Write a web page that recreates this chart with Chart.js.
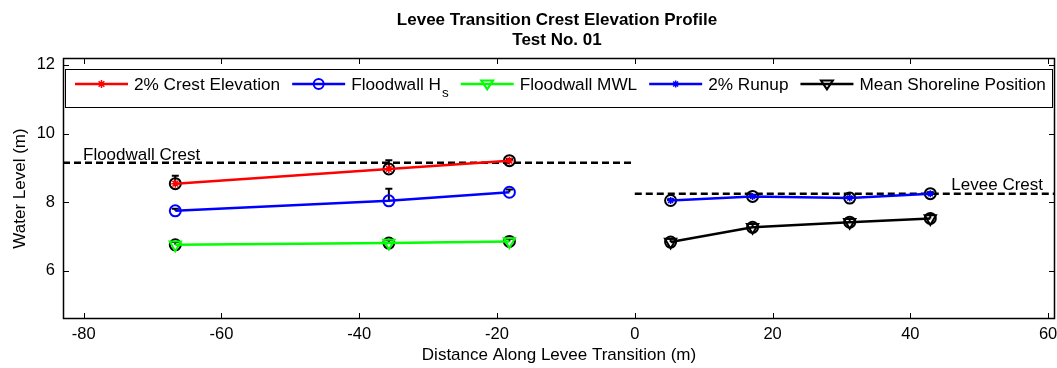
<!DOCTYPE html>
<html>
<head>
<meta charset="utf-8">
<script src="https://cdn.jsdelivr.net/npm/chart.js@4.4.0/dist/chart.umd.min.js"></script>
<style>
  html, body { margin: 0; padding: 0; background: #fff; }
  #wrap { width: 1057px; height: 368px; }
</style>
</head>
<body>
<div id="wrap"><canvas id="chart"></canvas></div>
<script>
const FONT = '"Liberation Sans", Arial, Helvetica, sans-serif';

// floodwall side (left of 0)
const floodX = [-66.7, -35.7, -18.2];
const crestElev = [8.54, 8.97, 9.21];
const crestErr = [0.23, 0.25, 0.05];
const floodHs = [7.75, 8.04, 8.29];
const hsErr = [0.06, 0.35, 0.08];
const floodMwl = [6.76, 6.81, 6.86];
const mwlErr = [0.08, 0.08, 0.08];

// levee side (right of 0)
const leveeX = [5.2, 17.1, 31.2, 42.9];
const runup = [8.05, 8.17, 8.12, 8.25];
const runupErr = [0.04, 0.04, 0.04, 0.04];
const shoreline = [6.84, 7.27, 7.42, 7.53];
const shoreErr = [0.1, 0.1, 0.1, 0.1];

const floodwallCrest = 9.15;
const leveeCrest = 8.25;
const xRange = [-83, 61];
const yRange = [4.6, 12.2];
const xTicks = [-80, -60, -40, -20, 0, 20, 40, 60];
const yTicks = [6, 8, 10, 12];
const titleLines = ['Levee Transition Crest Elevation Profile', 'Test No. 01'];
const legendLabels = ['2% Crest Elevation', 'Floodwall H', 'Floodwall MWL', '2% Runup', 'Mean Shoreline Position'];

const RED = '#ff0000', BLUE = '#0000ff', GREEN = '#00ff00', BLACK = '#000000';
const LW = 2.5;

const pts = (xs, ys) => xs.map((x, i) => ({ x, y: ys[i] }));

function drawMarker(ctx, style, x, y, r, color) {
    ctx.save();
    ctx.strokeStyle = color;
    ctx.lineWidth = 2;
    ctx.beginPath();
    if (style === 'circle') {
        ctx.arc(x, y, r, 0, Math.PI * 2);
    } else if (style === 'star') {
        ctx.lineWidth = 1.5;
        for (let a = 0; a < 4; a++) {
            const ang = a * Math.PI / 4;
            ctx.moveTo(x - Math.cos(ang) * r, y - Math.sin(ang) * r);
            ctx.lineTo(x + Math.cos(ang) * r, y + Math.sin(ang) * r);
        }
    } else if (style === 'tridown') {
        ctx.moveTo(x - r, y - r * 0.6);
        ctx.lineTo(x + r, y - r * 0.6);
        ctx.lineTo(x, y + r * 0.9);
        ctx.closePath();
    }
    ctx.stroke();
    ctx.restore();
}

const boxTicks = {
    id: 'boxTicks',
    beforeDatasetsDraw(chart) {
        const { ctx, scales: { x, y } } = chart;
        // error bars (upper half only visible)
        const groups = [
            [floodX, crestElev, crestErr], [floodX, floodHs, hsErr], [floodX, floodMwl, mwlErr],
            [leveeX, runup, runupErr], [leveeX, shoreline, shoreErr]
        ];
        ctx.save();
        ctx.strokeStyle = BLACK;
        ctx.lineWidth = 2;
        groups.forEach(([xs, ys, es]) => {
            xs.forEach((v, i) => {
                const px = x.getPixelForValue(v);
                const py = y.getPixelForValue(ys[i]);
                const pt = y.getPixelForValue(ys[i] + es[i]);
                ctx.beginPath();
                ctx.moveTo(px, py); ctx.lineTo(px, pt);
                ctx.moveTo(px - 3.5, pt); ctx.lineTo(px + 3.5, pt);
                ctx.stroke();
            });
        });
        ctx.restore();
    },
    afterDraw(chart) {
        const { ctx, chartArea: a, scales: { x, y } } = chart;
        ctx.save();
        ctx.strokeStyle = BLACK;
        ctx.lineWidth = 1;
        ctx.beginPath();
        xTicks.forEach(v => {
            const px = Math.round(x.getPixelForValue(v)) + 0.5;
            ctx.moveTo(px, a.bottom); ctx.lineTo(px, a.bottom - 6);
            ctx.moveTo(px, a.top); ctx.lineTo(px, a.top + 6);
        });
        yTicks.forEach(v => {
            const py = Math.round(y.getPixelForValue(v)) + 0.5;
            ctx.moveTo(a.left, py); ctx.lineTo(a.left + 6, py);
            ctx.moveTo(a.right, py); ctx.lineTo(a.right - 6, py);
        });
        ctx.stroke();
        ctx.lineWidth = 1.5;
        ctx.strokeRect(a.left + 0.5, a.top + 0.5, a.right - a.left - 1, a.bottom - a.top - 1);

        // annotations
        ctx.fillStyle = BLACK;
        ctx.font = '17px ' + FONT;
        ctx.textBaseline = 'alphabetic';
        ctx.textAlign = 'left';
        ctx.fillText('Floodwall Crest', a.left + 20, y.getPixelForValue(floodwallCrest) - 3);
        ctx.textAlign = 'right';
        ctx.fillText('Levee Crest', a.right - 12, y.getPixelForValue(leveeCrest) - 4);

        // title
        ctx.textAlign = 'center';
        ctx.textBaseline = 'middle';
        ctx.font = 'bold 17px ' + FONT;
        ctx.fillText(titleLines[0], 557, 20);
        ctx.fillText(titleLines[1], 557, 40);

        // legend
        const lx = a.left + 2, ly = a.top + 11, lw = a.right - a.left - 4, lh = 39;
        ctx.fillStyle = '#fff';
        ctx.fillRect(lx, ly, lw, lh);
        ctx.lineWidth = 1;
        ctx.strokeStyle = BLACK;
        ctx.strokeRect(lx + 0.5, ly + 0.5, lw - 1, lh - 1);
        const items = [
            [RED, 'star', 4], [BLUE, 'circle', 5], [GREEN, 'tridown', 6], [BLUE, 'star', 3.5], [BLACK, 'tridown', 6]
        ];
        let cx = lx + 10;
        const cy = ly + 15;
        ctx.font = '17.2px ' + FONT;
        ctx.textAlign = 'left';
        ctx.textBaseline = 'middle';
        items.forEach(([col, st, r], i) => {
            ctx.strokeStyle = col;
            ctx.lineWidth = LW;
            ctx.beginPath();
            ctx.moveTo(cx, cy); ctx.lineTo(cx + 53, cy);
            ctx.stroke();
            drawMarker(ctx, st, cx + 26.5, cy, r, col);
            cx += 59;
            ctx.fillStyle = BLACK;
            const txt = legendLabels[i];
            ctx.fillText(txt, cx, cy + 1);
            cx += ctx.measureText(txt).width;
            if (i === 1) {
                ctx.font = '13.5px ' + FONT;
                ctx.fillText('s', cx + 1, cy + 9);
                cx += ctx.measureText('s').width + 1;
                ctx.font = '17.2px ' + FONT;
            }
            cx += 12;
        });
        ctx.restore();
    }
};

const ring = (xs, ys) => ({
    data: pts(xs, ys), showLine: false, pointStyle: 'circle', pointRadius: 5.5,
    pointBorderColor: BLACK, pointBackgroundColor: 'rgba(0,0,0,0)', pointBorderWidth: 2
});

new Chart(document.getElementById('chart'), {
    type: 'scatter',
    data: {
        datasets: [
            { label: legendLabels[0], data: pts(floodX, crestElev), showLine: true, borderColor: RED, borderWidth: LW,
              pointStyle: 'star', pointRadius: 4, pointBorderColor: RED, pointBorderWidth: 1.5 },
            { label: legendLabels[1], data: pts(floodX, floodHs), showLine: true, borderColor: BLUE, borderWidth: LW,
              pointStyle: 'circle', pointRadius: 5.5, pointBorderColor: BLUE, pointBackgroundColor: 'rgba(0,0,0,0)', pointBorderWidth: 2 },
            { label: legendLabels[2], data: pts(floodX, floodMwl), showLine: true, borderColor: GREEN, borderWidth: LW,
              pointStyle: 'triangle', pointRotation: 180, pointRadius: 6.5, pointBorderColor: GREEN, pointBackgroundColor: 'rgba(0,0,0,0)', pointBorderWidth: 2 },
            { label: legendLabels[3], data: pts(leveeX, runup), showLine: true, borderColor: BLUE, borderWidth: LW,
              pointStyle: 'star', pointRadius: 3.5, pointBorderColor: BLUE, pointBorderWidth: 1.5 },
            { label: legendLabels[4], data: pts(leveeX, shoreline), showLine: true, borderColor: BLACK, borderWidth: LW,
              pointStyle: 'triangle', pointRotation: 180, pointRadius: 6.5, pointBorderColor: BLACK, pointBackgroundColor: 'rgba(0,0,0,0)', pointBorderWidth: 2 },
            ring(floodX, crestElev),
            ring(floodX, floodMwl),
            ring(leveeX, runup),
            ring(leveeX, shoreline),
            { data: pts([xRange[0], 0], [floodwallCrest, floodwallCrest]), showLine: true, borderColor: BLACK,
              borderWidth: LW, borderDash: [7, 4], pointRadius: 0 },
            { data: pts([0, xRange[1]], [leveeCrest, leveeCrest]), showLine: true, borderColor: BLACK,
              borderWidth: LW, borderDash: [7, 4], pointRadius: 0 }
        ]
    },
    options: {
        responsive: true,
        maintainAspectRatio: false,
        animation: false,
        layout: { autoPadding: false, padding: { top: 58, right: 2, left: 0, bottom: 0 } },
        plugins: { legend: { display: false }, tooltip: { enabled: false }, title: { display: false } },
        scales: {
            x: {
                type: 'linear', min: xRange[0], max: xRange[1],
                afterBuildTicks: s => { s.ticks = xTicks.map(v => ({ value: v })); },
                afterFit: s => { s.height = 49; s.paddingLeft = 0; s.paddingRight = 0; },
                grid: { display: false, drawTicks: false },
                border: { display: false },
                ticks: { color: BLACK, padding: 6, font: { family: FONT, size: 16.5 } },
                title: { display: true, text: 'Distance Along Levee Transition (m)', color: BLACK,
                         font: { family: FONT, size: 17 }, padding: { top: 0, bottom: 2 } }
            },
            y: {
                type: 'linear', min: yRange[0], max: yRange[1],
                afterBuildTicks: s => { s.ticks = yTicks.map(v => ({ value: v })); },
                afterFit: s => { s.width = 63; s.paddingTop = 0; s.paddingBottom = 0; },
                grid: { display: false, drawTicks: false },
                border: { display: false },
                ticks: { color: BLACK, padding: 8, font: { family: FONT, size: 16.5 } },
                title: { display: true, text: 'Water Level (m)', color: BLACK,
                         font: { family: FONT, size: 17 }, padding: { top: 10, bottom: 0 } }
            }
        }
    },
    plugins: [boxTicks]
});
</script>
</body>
</html>
